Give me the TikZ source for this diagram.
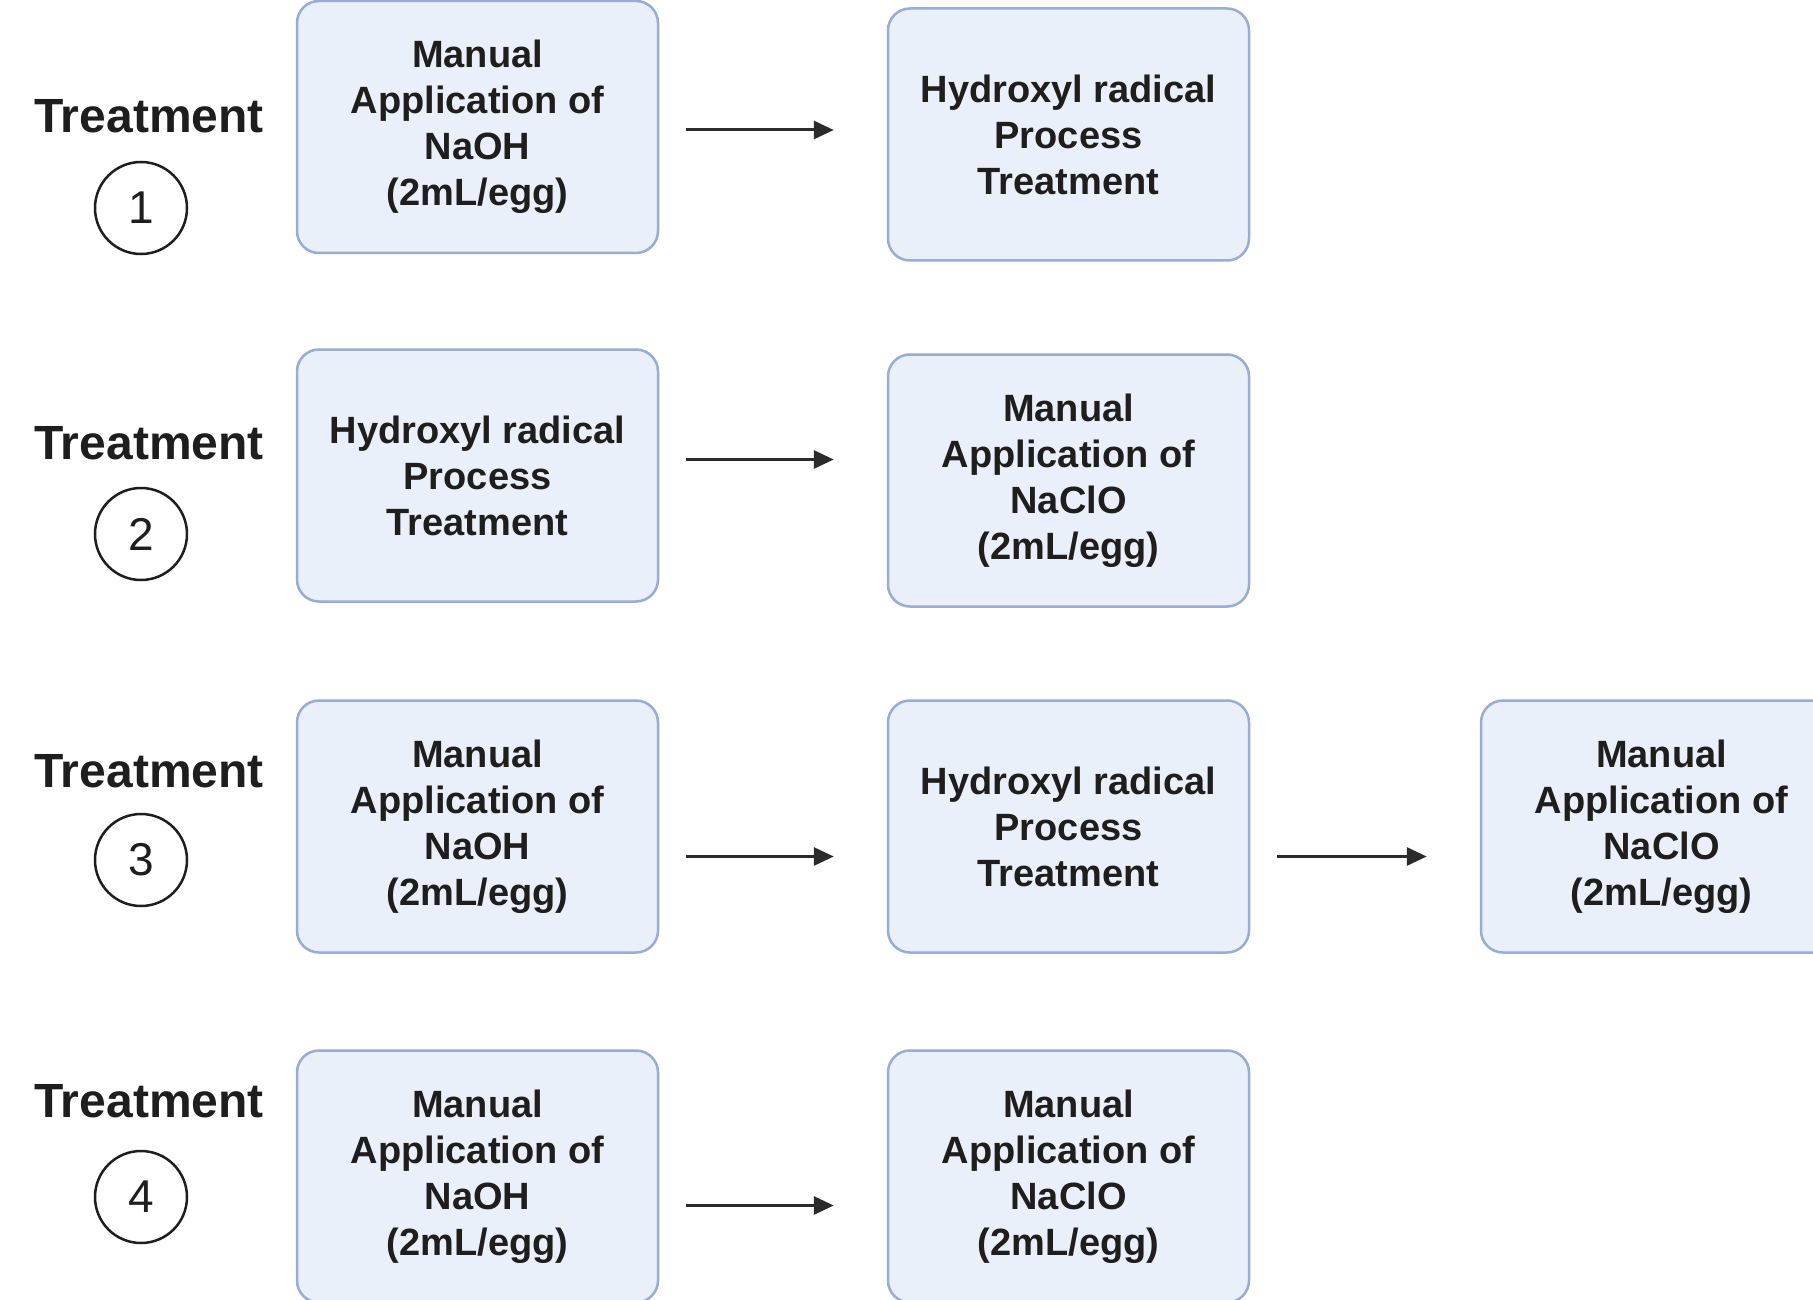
\documentclass[tikz,border=0pt]{standalone}
\usepackage{fontspec}
\setmainfont{Liberation Sans}
\usetikzlibrary{arrows.meta}
\definecolor{boxfill}{HTML}{EAF0FA}
\definecolor{boxdraw}{HTML}{98ACD4}
\definecolor{arrowc}{HTML}{2B2B2B}
\definecolor{txt}{HTML}{1E1E1E}
\begin{document}
\begin{tikzpicture}[x=1pt,y=-1pt,
  stepbox/.style={draw=boxdraw, fill=boxfill, line width=2.5pt, rounded corners=22pt,
    minimum width=361pt, minimum height=252pt, align=center, text=txt,
    font=\fontsize{38}{46}\selectfont\bfseries},
  tlabel/.style={text=txt, font=\fontsize{48}{52}\selectfont\bfseries},
  numc/.style={circle, draw=txt, line width=2.5pt, minimum size=92pt, inner sep=0pt,
    text=txt, font=\fontsize{46}{46}\selectfont},
  arr/.style={draw=arrowc, line width=3pt, -{Triangle[length=20pt,width=18pt]}}]
\useasboundingbox (0,0) rectangle (1813,1300);
\clip (0,0) rectangle (1813,1300);
\fill[white] (0,0) rectangle (1813,1300);

% labels
\node[tlabel] (t1) at (149,116) {Treatment};
\node[numc] (c1) at (141,208) {1};
\node[tlabel] (t2) at (149,443) {Treatment};
\node[numc] (c2) at (141,534) {2};
\node[tlabel] (t3) at (149,771) {Treatment};
\node[numc] (c3) at (141,860) {3};
\node[tlabel] (t4) at (149,1101) {Treatment};
\node[numc] (c4) at (141,1197) {4};

% row 1
\node[stepbox] (b11) at (477.5,127) {Manual\\Application of\\NaOH\\(2mL/egg)};
\node[stepbox] (b12) at (1068.5,134.5) {Hydroxyl radical\\Process\\Treatment};
% row 2
\node[stepbox] (b21) at (477.5,475.5) {Hydroxyl radical\\Process\\Treatment};
\node[stepbox] (b22) at (1068.5,480.5) {Manual\\Application of\\NaClO\\(2mL/egg)};
% row 3
\node[stepbox] (b31) at (477.5,826.5) {Manual\\Application of\\NaOH\\(2mL/egg)};
\node[stepbox] (b32) at (1068.5,826.5) {Hydroxyl radical\\Process\\Treatment};
\node[stepbox] (b33) at (1661.5,826.5) {Manual\\Application of\\NaClO\\(2mL/egg)};
% row 4
\node[stepbox] (b41) at (477.5,1176.5) {Manual\\Application of\\NaOH\\(2mL/egg)};
\node[stepbox] (b42) at (1068.5,1176.5) {Manual\\Application of\\NaClO\\(2mL/egg)};

% arrows
\draw[arr, shorten <=27pt, shorten >=53pt] ([yshift=-3pt]b11.east) -- ([yshift=-3pt]b11.east -| b12.west);
\draw[arr, shorten <=27pt, shorten >=53pt] ([yshift=16pt]b21.east) -- ([yshift=16pt]b21.east -| b22.west);
\draw[arr, shorten <=27pt, shorten >=53pt] ([yshift=-30pt]b31.east) -- ([yshift=-30pt]b31.east -| b32.west);
\draw[arr, shorten <=27pt, shorten >=53pt] ([yshift=-30pt]b32.east) -- ([yshift=-30pt]b32.east -| b33.west);
\draw[arr, shorten <=27pt, shorten >=53pt] ([yshift=-29pt]b41.east) -- ([yshift=-29pt]b41.east -| b42.west);
\end{tikzpicture}
\end{document}
